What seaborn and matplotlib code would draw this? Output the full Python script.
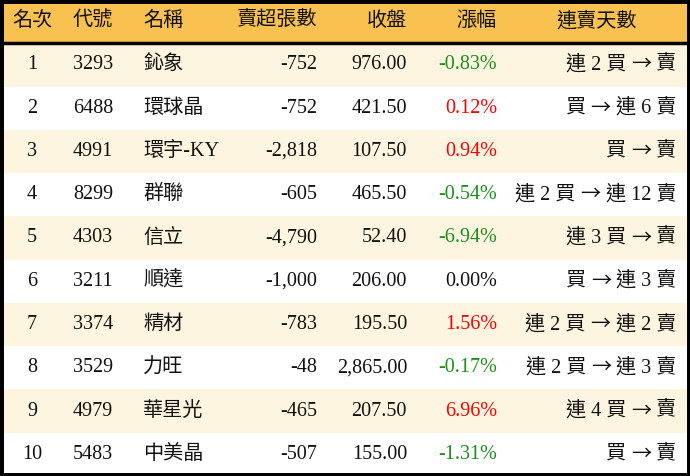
import numpy as np
import pandas as pd
import matplotlib
matplotlib.use("Agg")
import matplotlib.pyplot as plt
from matplotlib.colors import ListedColormap
import seaborn as sns

headers = ["名次", "代號", "名稱", "賣超張數", "收盤", "漲幅", "連賣天數"]
ranks = ["1", "2", "3", "4", "5", "6", "7", "8", "9", "10"]
codes = ["3293", "6488", "4991", "8299", "4303", "3211", "3374", "3529", "4979", "5483"]
names = ["鈊象", "環球晶", "環宇-KY", "群聯", "信立", "順達", "精材", "力旺", "華星光", "中美晶"]
net_sell = [-752, -752, -2818, -605, -4790, -1000, -783, -48, -465, -507]
close = [976.00, 421.50, 107.50, 465.50, 52.40, 206.00, 195.50, 2865.00, 207.50, 155.00]
change = [-0.83, 0.12, 0.94, -0.54, -6.94, 0.00, 1.56, -0.17, 6.96, -1.31]
streak_buy = ["連 2 買", "買", "買", "連 2 買", "連 3 買", "買", "連 2 買", "連 2 買", "連 4 買", "買"]
streak_sell = ["賣", "連 6 賣", "賣", "連 12 賣", "賣", "連 3 賣", "連 2 賣", "連 3 賣", "賣", "賣"]

sns.set_theme(style="white")
plt.rcParams["font.family"] = ["Liberation Serif", "Noto Sans CJK TC", "DejaVu Sans"]

W, H = 690, 476
fig = plt.figure(figsize=(W / 100, H / 100), dpi=100)
ax = fig.add_axes([0, 0, 1, 1])

# background bands: 0 header, 1 odd row, 2 even row
band = np.array([[0]] + [[1 if i % 2 == 0 else 2] for i in range(len(ranks))])
cmap = ListedColormap(["#F8C150", "#FEF5E0", "#FFFFFF"])
sns.heatmap(band, ax=ax, cmap=cmap, vmin=-0.5, vmax=2.5, cbar=False,
            xticklabels=False, yticklabels=False)
ax.set_xlim(0, 1)
ax.set_ylim(len(band), 0)

trans = ax.get_yaxis_transform()
fs = 14.5
ink = "#111111"

# header
hdr_pos = [(32, "center"), (73, "left"), (143, "left"), (317, "right"),
           (407, "right"), (497, "right"), (597, "center")]
for h, (x, ha) in zip(headers, hdr_pos):
    ax.text(x / W, 0.5, h, transform=trans, ha=ha, va="center", fontsize=fs, color=ink)

for i in range(len(ranks)):
    y = i + 1.5
    pct = change[i]
    col = "#1E8C1E" if pct < 0 else ("#FF0000" if pct > 0 else ink)
    cells = [
        (32, "center", ranks[i], ink),
        (73, "left", codes[i], ink),
        (143, "left", names[i], ink),
        (317, "right", f"{net_sell[i]:,}", ink),
        (407, "right", f"{close[i]:,.2f}", ink),
        (497, "right", f"{pct:.2f}%", col),
    ]
    for x, ha, s, c in cells:
        ax.text(x / W, y, s, transform=trans, ha=ha, va="center", fontsize=fs, color=c)
    # streak: sell part, arrow, buy part chained right-to-left
    t_sell = ax.text(676 / W, y, streak_sell[i], transform=trans, ha="right",
                     va="center", fontsize=fs, color=ink)
    t_arr = ax.annotate("→", xy=(0, 0.5), xycoords=t_sell, xytext=(-3.5, 0),
                        textcoords="offset points", ha="right", va="center",
                        fontsize=fs, color=ink, family="Noto Sans CJK TC")
    ax.annotate(streak_buy[i], xy=(0, 0.5), xycoords=t_arr, xytext=(-3.5, 0),
                textcoords="offset points", ha="right", va="center",
                fontsize=fs, color=ink)

# header separator and border
ax.axhline(1, color="black", lw=2.5)
for sp in ax.spines.values():
    sp.set_visible(True)
    sp.set_color("black")
    sp.set_linewidth(5)

fig.savefig("out.png", dpi=100)
